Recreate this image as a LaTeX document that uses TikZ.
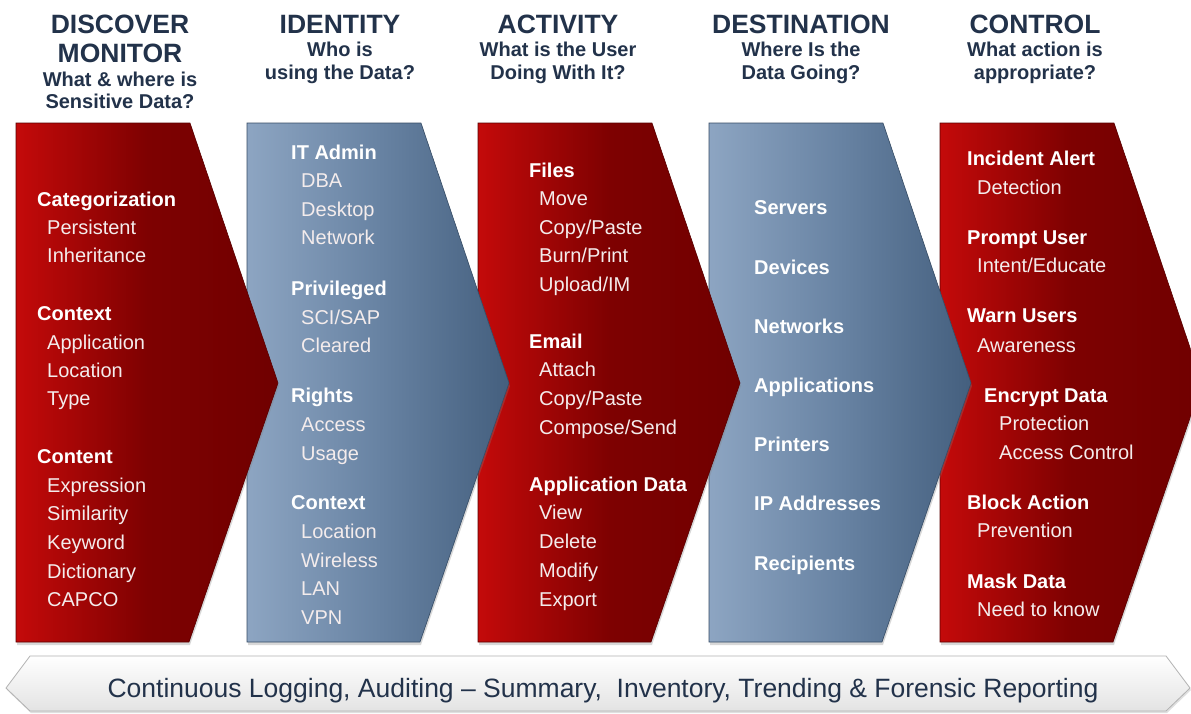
\documentclass[tikz,border=0pt]{standalone}
\usepackage{fontspec}
\setmainfont{Liberation Sans}
\usetikzlibrary{shadows}
\definecolor{headtext}{HTML}{22324A}
\definecolor{redlight}{HTML}{C40A0A}
\definecolor{redmid}{HTML}{7E0101}
\definecolor{reddark}{HTML}{700000}
\definecolor{bluelight}{HTML}{8DA5C2}
\definecolor{bluemid}{HTML}{6883A3}
\definecolor{bluedark}{HTML}{445F7E}
\definecolor{itemtext}{HTML}{F4ECEC}
\tikzset{
  chev/.style={drop shadow={shadow xshift=1pt, shadow yshift=-3pt, opacity=.3}},
  redchev/.style={chev, left color=redlight, right color=reddark, middle color=redmid,
    draw=reddark!80!black, line width=.6pt},
  bluechev/.style={chev, left color=bluelight, right color=bluedark, middle color=bluemid,
    draw=bluedark!80!black, line width=.6pt},
  logbar/.style={drop shadow={shadow xshift=1pt, shadow yshift=-2pt, opacity=.25},
    top color=white, bottom color=gray!22, draw=gray!60, line width=.8pt},
  title/.style={anchor=base, inner sep=0pt, text=headtext, font=\fontsize{26.5}{30}\selectfont\bfseries},
  question/.style={anchor=base, inner sep=0pt, text=headtext, font=\fontsize{20}{23}\selectfont\bfseries},
  head/.style={anchor=base west, inner sep=0pt, text=white, font=\fontsize{20}{24}\selectfont\bfseries},
  item/.style={head, xshift=10pt, text=itemtext, font=\fontsize{20}{24}\selectfont},
  headE/.style={head, xshift=17pt},
  itemE/.style={item, xshift=22pt},
}

\begin{document}
\begin{tikzpicture}[x=1pt, y=-1pt]
  \useasboundingbox (0,0) rectangle (1191,713);
  \fill[white] (0,0) rectangle (1191,713);

  % column titles
  \node[title] (discover) at (120,33) {DISCOVER};
  \node[title] (monitor) at (120,62) {MONITOR};
  \node[question] (dmq1) at (120,86) {What \& where is};
  \node[question] (dmq2) at (120,108) {Sensitive Data?};
  \node[title] (identity) at (340,33) {IDENTITY};
  \node[question] (idq1) at (340,56) {Who is};
  \node[question] (idq2) at (340,79) {using the Data?};
  \node[title] (activity) at (558,33) {ACTIVITY};
  \node[question] (acq1) at (558,56) {What is the User};
  \node[question] (acq2) at (558,79) {Doing With It?};
  \node[title] (destination) at (801,33) {DESTINATION};
  \node[question] (deq1) at (801,56) {Where Is the};
  \node[question] (deq2) at (801,79) {Data Going?};
  \node[title] (control) at (1035,33) {CONTROL};
  \node[question] (coq1) at (1035,56) {What action is};
  \node[question] (coq2) at (1035,79) {appropriate?};

  % chevrons, right to left so each tip lies on top
  \foreach \xl/\kind in {940/redchev, 709/bluechev, 478/redchev, 247/bluechev, 16/redchev}
    \path[\kind] (\xl,123) -- (\xl+174,123) -- (\xl+262,383) -- (\xl+173,642) -- (\xl,642) -- cycle;

  % discover / monitor
  \foreach \yy/\kind/\txt [count=\i] in {206/head/Categorization, 234/item/Persistent,
      262/item/Inheritance, 320/head/Context, 349/item/Application, 377/item/Location,
      405/item/Type, 463/head/Content, 492/item/Expression, 520/item/Similarity,
      549/item/Keyword, 578/item/Dictionary, 606/item/CAPCO}
    \node[\kind] (dm\i) at (37,\yy) {\txt};

  % identity
  \foreach \yy/\kind/\txt [count=\i] in {159/head/IT Admin, 187/item/DBA, 216/item/Desktop,
      244/item/Network, 295/head/Privileged, 324/item/{SCI/SAP}, 352/item/Cleared,
      402/head/Rights, 431/item/Access, 460/item/Usage, 509/head/Context,
      538/item/Location, 567/item/Wireless, 595/item/LAN, 624/item/VPN}
    \node[\kind] (id\i) at (291,\yy) {\txt};

  % activity
  \foreach \yy/\kind/\txt [count=\i] in {177/head/Files, 205/item/Move, 234/item/{Copy/Paste},
      262/item/{Burn/Print}, 291/item/{Upload/IM}, 348/head/Email, 376/item/Attach,
      405/item/{Copy/Paste}, 434/item/{Compose/Send}, 491/head/Application Data,
      519/item/View, 548/item/Delete, 577/item/Modify, 606/item/Export}
    \node[\kind] (ac\i) at (529,\yy) {\txt};

  % destination
  \foreach \yy/\txt [count=\i] in {214/Servers, 274/Devices, 333/Networks, 392/Applications,
      451/Printers, 510/IP Addresses, 570/Recipients}
    \node[head] (de\i) at (754,\yy) {\txt};

  % control
  \foreach \yy/\kind/\txt [count=\i] in {165/head/Incident Alert, 194/item/Detection,
      244/head/Prompt User, 272/item/{Intent/Educate}, 322/head/Warn Users,
      352/item/Awareness, 402/headE/Encrypt Data, 430/itemE/Protection,
      459/itemE/Access Control, 509/head/Block Action, 537/item/Prevention,
      588/head/Mask Data, 616/item/Need to know}
    \node[\kind] (co\i) at (967,\yy) {\txt};

  % reporting bar along the bottom
  \path[logbar] (30,656) -- (1166,656) -- (1190,688) -- (1166,711) -- (30,711) -- (6,688) -- cycle;
  \node[anchor=base, inner sep=0pt, text=headtext, font=\fontsize{26.5}{29}\selectfont]
    (reporting) at (603,697)
    {Continuous Logging, Auditing \textendash{} Summary, \ Inventory, Trending \& Forensic Reporting};
\end{tikzpicture}
\end{document}
